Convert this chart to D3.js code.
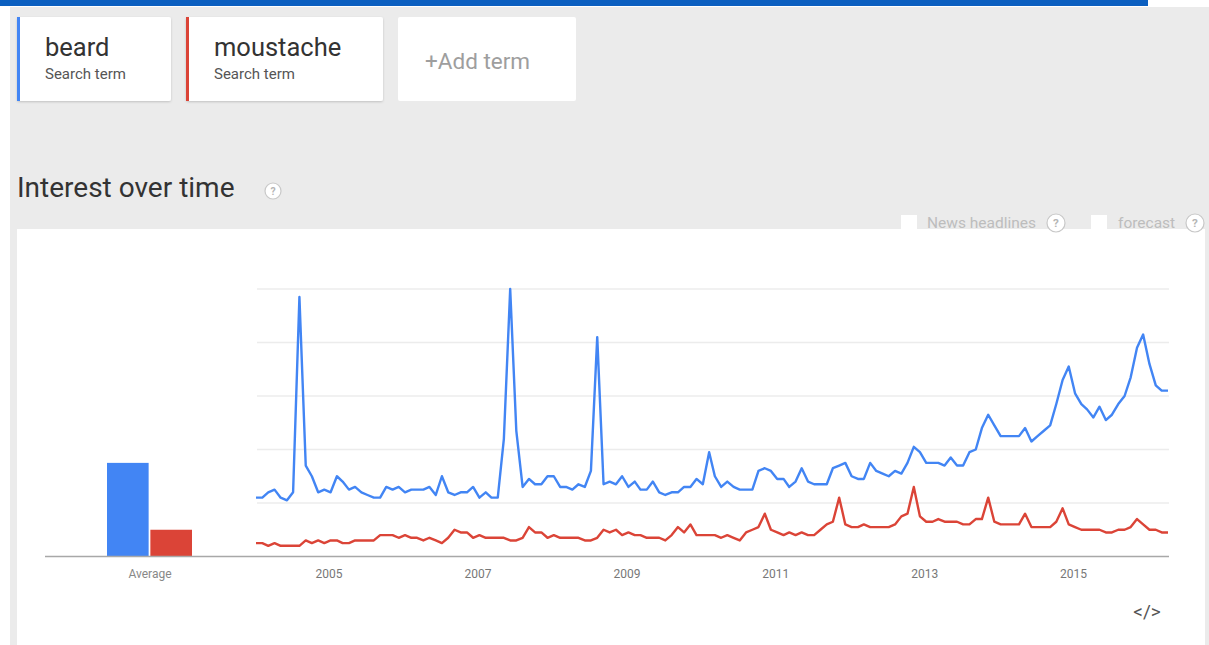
<!DOCTYPE html>
<html>
<head>
<meta charset="utf-8">
<script src="https://cdn.jsdelivr.net/npm/d3@7"></script>
<style>
  body { margin: 0; background: #fff; font-family: Roboto, "Open Sans", sans-serif; }
  svg { display: block; }
</style>
</head>
<body>
<svg id="chart"></svg>
<script>
// Datos (índice mensual desde enero 2004)
const terms = ["beard", "moustache"];
const termColors = ["#4285f4", "#db4437"];
const startMonth = new Date(2004, 0, 1);

const beard = [
  22, 22, 24, 25, 22, 21, 24, 97, 34, 30, 24, 25, 24, 30, 28, 25, 26, 24, 23, 22,
  22, 26, 25, 26, 24, 25, 25, 25, 26, 23, 30, 24, 23, 24, 24, 26, 22, 24, 22, 22,
  44, 100, 47, 26, 29, 27, 27, 30, 30, 26, 26, 25, 27, 26, 32, 82, 27, 28, 27, 30,
  26, 28, 25, 25, 28, 24, 23, 24, 24, 26, 26, 29, 27, 39, 30, 26, 28, 26, 25, 25,
  25, 32, 33, 32, 29, 29, 26, 28, 33, 28, 27, 27, 27, 33, 34, 35, 30, 29, 29, 35,
  32, 31, 30, 32, 31, 35, 41, 39, 35, 35, 35, 34, 37, 34, 34, 39, 40, 48, 53, 49,
  45, 45, 45, 45, 48, 43, 45, 47, 49, 57, 66, 71, 61, 57, 55, 52, 56, 51, 53, 57,
  60, 67, 78, 83, 72, 64, 62, 62
];

const moustache = [
  5, 5, 4, 5, 4, 4, 4, 4, 6, 5, 6, 5, 6, 6, 5, 5, 6, 6, 6, 6,
  8, 8, 8, 7, 8, 7, 7, 6, 7, 6, 5, 7, 10, 9, 9, 7, 8, 7, 7, 7,
  7, 6, 6, 7, 11, 9, 9, 7, 8, 7, 7, 7, 7, 6, 6, 7, 10, 9, 10, 8,
  9, 8, 8, 7, 7, 7, 6, 8, 11, 9, 12, 8, 8, 8, 8, 7, 8, 7, 6, 9,
  10, 11, 16, 10, 9, 8, 9, 8, 9, 8, 8, 10, 12, 13, 22, 12, 11, 11, 12, 11,
  11, 11, 11, 12, 15, 16, 26, 15, 13, 13, 14, 13, 13, 13, 12, 12, 14, 14, 22, 13,
  12, 12, 12, 12, 16, 11, 11, 11, 11, 13, 18, 12, 11, 10, 10, 10, 10, 9, 9, 10,
  10, 11, 14, 12, 10, 10, 9, 9
];

const averages = [35, 10];
const yearTicks = [2005, 2007, 2009, 2011, 2013, 2015];
const gridValues = [20, 40, 60, 80, 100];

const width = 1209;
const height = 645;

const svg = d3.select("#chart")
    .attr("width", width)
    .attr("height", height);

// Sombra suave para las tarjetas
const defs = svg.append("defs");
const shadow = defs.append("filter").attr("id", "shadow")
    .attr("x", "-10%").attr("y", "-10%").attr("width", "120%").attr("height", "130%");
shadow.append("feDropShadow")
    .attr("dx", 0).attr("dy", 1).attr("stdDeviation", 1)
    .attr("flood-color", "#000").attr("flood-opacity", 0.18);

// Fondo gris de la página
svg.append("rect")
    .attr("x", 10).attr("y", 7)
    .attr("width", width - 10).attr("height", height - 7)
    .attr("fill", "#ebebeb");

// Franja azul superior
svg.append("rect")
    .attr("x", 0).attr("y", 0)
    .attr("width", 1148).attr("height", 6)
    .attr("fill", "#0b5fc0");

// Tarjetas de términos
const cards = [
  { label: "beard", x: 17, w: 154, color: termColors[0] },
  { label: "moustache", x: 186, w: 197, color: termColors[1] }
];

const cardG = svg.selectAll(".card")
  .data(cards)
  .join("g")
    .attr("class", "card")
    .attr("transform", d => `translate(${d.x},17)`);

cardG.append("rect")
    .attr("width", d => d.w)
    .attr("height", 84)
    .attr("rx", 2)
    .attr("fill", "#fff")
    .attr("filter", "url(#shadow)");

cardG.append("rect")
    .attr("width", 3)
    .attr("height", 84)
    .attr("fill", d => d.color);

cardG.append("text")
    .attr("x", 28).attr("y", 39)
    .style("font-size", "25.5px")
    .style("fill", "#333")
    .text(d => d.label);

cardG.append("text")
    .attr("x", 28).attr("y", 62)
    .style("font-size", "15px")
    .style("fill", "#555")
    .text("Search term");

// Tarjeta "+Add term"
svg.append("rect")
    .attr("x", 398).attr("y", 17)
    .attr("width", 178).attr("height", 84)
    .attr("rx", 2)
    .attr("fill", "#fff");

svg.append("text")
    .attr("x", 425).attr("y", 69)
    .style("font-size", "22.5px")
    .style("fill", "#9e9e9e")
    .text("+Add term");

// Título
svg.append("text")
    .attr("x", 17).attr("y", 197)
    .style("font-size", "28px")
    .style("fill", "#333")
    .text("Interest over time");

function helpIcon(cx, cy, r) {
  const g = svg.append("g").attr("transform", `translate(${cx},${cy})`);
  g.append("circle")
      .attr("r", r)
      .attr("fill", "#fff")
      .attr("stroke", "#c8c8c8")
      .attr("stroke-width", 1.2);
  g.append("text")
      .attr("text-anchor", "middle")
      .attr("dy", "0.35em")
      .style("font-size", (r * 1.3) + "px")
      .style("font-weight", "bold")
      .style("fill", "#b5b5b5")
      .text("?");
}

helpIcon(273, 191, 8);

// Panel blanco del gráfico
svg.append("rect")
    .attr("x", 17).attr("y", 229)
    .attr("width", 1188).attr("height", height - 229)
    .attr("fill", "#fff");

// Casillas "News headlines" y "forecast"
const checks = [
  { label: "News headlines", box: 901, text: 927, help: 1056 },
  { label: "forecast", box: 1091, text: 1118, help: 1195 }
];

checks.forEach(c => {
  svg.append("rect")
      .attr("x", c.box).attr("y", 215)
      .attr("width", 16).attr("height", 16)
      .attr("fill", "#fff");
  svg.append("text")
      .attr("x", c.text).attr("y", 228)
      .style("font-size", "15.5px")
      .style("fill", "#bdbdbd")
      .text(c.label);
  helpIcon(c.help, 223, 9);
});

// Escalas
const dates = beard.map((d, i) => d3.timeMonth.offset(startMonth, i));

const x = d3.scaleTime()
    .domain([dates[0], dates[dates.length - 1]])
    .range([256, 1168]);

const y = d3.scaleLinear()
    .domain([0, 100])
    .range([556.5, 289]);

// Líneas de cuadrícula
svg.append("g")
  .selectAll("line")
  .data(gridValues)
  .join("line")
    .attr("x1", 257)
    .attr("x2", 1169)
    .attr("y1", d => y(d))
    .attr("y2", d => y(d))
    .attr("stroke", "#ececec")
    .attr("stroke-width", 1.5);

// Barras de promedio
const xb = d3.scaleBand()
    .domain(terms)
    .range([107, 192])
    .paddingInner(0.04);

svg.append("g")
  .selectAll("rect")
  .data(averages)
  .join("rect")
    .attr("x", (d, i) => xb(terms[i]))
    .attr("y", d => y(d))
    .attr("width", xb.bandwidth())
    .attr("height", d => y(0) - y(d))
    .attr("fill", (d, i) => termColors[i]);

svg.append("text")
    .attr("x", 150).attr("y", 578)
    .attr("text-anchor", "middle")
    .style("font-size", "12px")
    .style("fill", "#888")
    .text("Average");

// Líneas de series
const line = d3.line()
    .x((d, i) => x(dates[i]))
    .y(d => y(d));

[beard, moustache].forEach((series, k) => {
  svg.append("path")
      .datum(series)
      .attr("fill", "none")
      .attr("stroke", termColors[k])
      .attr("stroke-width", 2.4)
      .attr("stroke-linejoin", "round")
      .attr("d", line);
});

// Línea base
svg.append("line")
    .attr("x1", 45).attr("x2", 1169)
    .attr("y1", y(0)).attr("y2", y(0))
    .attr("stroke", "#a8a8a8")
    .attr("stroke-width", 1.6);

// Eje horizontal (años)
svg.append("g")
    .attr("transform", `translate(-2,${y(0) + 10})`)
    .call(d3.axisBottom(x)
      .tickValues(yearTicks.map(yr => new Date(yr, 0, 1)))
      .tickFormat(d3.timeFormat("%Y"))
      .tickSize(0))
    .call(g => g.select(".domain").remove())
    .call(g => g.selectAll("text")
      .style("font-family", "Roboto, sans-serif")
      .style("font-size", "12px")
      .style("fill", "#777"));

// Icono de inserción
svg.append("text")
    .attr("x", 1147).attr("y", 618)
    .attr("text-anchor", "middle")
    .style("font-size", "19px")
    .style("fill", "#555")
    .text("</>");
</script>
</body>
</html>
